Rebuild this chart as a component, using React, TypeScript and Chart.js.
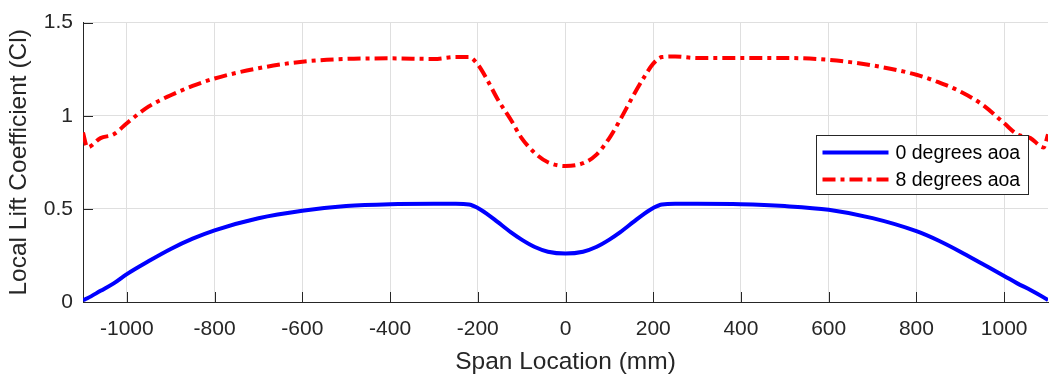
import React, { useEffect, useRef } from 'react';
import { Chart, registerables } from 'chart.js';

Chart.register(...registerables);

// ---- data ----
const spanMm = [
  -1100, -1090, -1060, -1030, -1000, -950, -900, -850, -800, -700, -600, -500, -400, -300, -250, -220, -200,
  -180, -155, -125, -100, -70, -40, 0, 40, 70, 100, 125, 155, 180, 200, 220, 250, 300, 400, 500, 600,
  700, 800, 850, 900, 950, 1000, 1030, 1060, 1090, 1100,
];
const cl0deg = [
  0.01, 0.02, 0.06, 0.1, 0.15, 0.22, 0.285, 0.34, 0.385, 0.45, 0.49, 0.515, 0.525, 0.527, 0.527, 0.524, 0.505,
  0.475, 0.43, 0.375, 0.335, 0.295, 0.27, 0.26, 0.27, 0.295, 0.335, 0.375, 0.43, 0.475, 0.505, 0.524, 0.527, 0.527, 0.525, 0.515, 0.495,
  0.45, 0.38, 0.33, 0.27, 0.205, 0.14, 0.1, 0.065, 0.025, 0.01,
];
const cl8deg = [
  0.91, 0.83, 0.88, 0.9, 0.96, 1.05, 1.11, 1.16, 1.2, 1.255, 1.29, 1.305, 1.308, 1.305, 1.315, 1.315, 1.275,
  1.2, 1.09, 0.98, 0.88, 0.8, 0.75, 0.73, 0.745, 0.79, 0.88, 0.98, 1.11, 1.21, 1.28, 1.315, 1.318, 1.31, 1.31, 1.31, 1.3,
  1.27, 1.22, 1.18, 1.13, 1.06, 0.96, 0.9, 0.88, 0.83, 0.9,
];
const seriesLabels = ['0 degrees aoa', '8 degrees aoa'];
const xTickValues = [-1000, -800, -600, -400, -200, 0, 200, 400, 600, 800, 1000];
const yTickValues = [0, 0.5, 1, 1.5];

const FONT = "'Liberation Sans', Arial, Helvetica, sans-serif";
const AXIS_COLOR = '#262626';
const GRID_COLOR = '#dfdfdf';

const inwardTicks = {
  id: 'inwardTicks',
  afterDatasetsDraw(chart: any) {
    const { ctx, chartArea } = chart;
    const xs = chart.scales.x;
    const ys = chart.scales.y;
    ctx.save();
    ctx.strokeStyle = AXIS_COLOR;
    ctx.lineWidth = 1;
    ctx.beginPath();
    for (const v of xTickValues) {
      const px = Math.round(xs.getPixelForValue(v)) + 0.5;
      ctx.moveTo(px, chartArea.bottom);
      ctx.lineTo(px, chartArea.bottom - 10);
    }
    for (const v of yTickValues) {
      const py = Math.round(ys.getPixelForValue(v)) + 0.5;
      ctx.moveTo(chartArea.left, py);
      ctx.lineTo(chartArea.left + 10, py);
    }
    ctx.stroke();
    ctx.restore();
  },
};

const boxLegend = {
  id: 'boxLegend',
  afterDraw(chart: any) {
    const { ctx, chartArea } = chart;
    const w = 212;
    const h = 59;
    const left = Math.round(chartArea.right - 20 - w) + 0.5;
    const top = Math.round(chartArea.top + 112) + 0.5;
    ctx.save();
    ctx.fillStyle = '#ffffff';
    ctx.fillRect(left, top, w, h);
    ctx.strokeStyle = AXIS_COLOR;
    ctx.lineWidth = 1;
    ctx.strokeRect(left, top, w, h);
    chart.data.datasets.forEach((ds: any, i: number) => {
      const y = top + 17 + i * 27;
      ctx.beginPath();
      ctx.strokeStyle = ds.borderColor;
      ctx.lineWidth = ds.borderWidth;
      ctx.setLineDash(ds.borderDash || []);
      ctx.moveTo(left + 6, y);
      ctx.lineTo(left + 72, y);
      ctx.stroke();
      ctx.setLineDash([]);
      ctx.fillStyle = '#000000';
      ctx.font = `19.5px ${FONT}`;
      ctx.textAlign = 'left';
      ctx.textBaseline = 'middle';
      ctx.fillText(ds.label, left + 79, y + 1);
    });
    ctx.restore();
  },
};

const plainNumber = (value: any) => String(value);

export default function App() {
  const canvasRef = useRef<HTMLCanvasElement>(null);

  useEffect(() => {
    document.body.style.margin = '0';
    const canvas = canvasRef.current;
    if (!canvas) return;
    const chart = new Chart(canvas, {
      type: 'line',
      data: {
        datasets: [
          {
            label: seriesLabels[0],
            data: spanMm.map((x, i) => ({ x, y: cl0deg[i] })),
            borderColor: '#0000ff',
            borderWidth: 4,
            pointRadius: 0,
            cubicInterpolationMode: 'monotone',
            fill: false,
          },
          {
            label: seriesLabels[1],
            data: spanMm.map((x, i) => ({ x, y: cl8deg[i] })),
            borderColor: '#ff0000',
            borderWidth: 4,
            borderDash: [13, 5, 4, 5],
            pointRadius: 0,
            cubicInterpolationMode: 'monotone',
            fill: false,
          },
        ],
      },
      options: {
        animation: false,
        responsive: false,
        maintainAspectRatio: false,
        layout: { padding: { top: 19, right: 1, left: 0, bottom: 0 } },
        plugins: {
          legend: { display: false },
          tooltip: { enabled: false },
        },
        scales: {
          x: {
            type: 'linear',
            min: -1100,
            max: 1100,
            afterBuildTicks: (s: any) => {
              s.ticks = xTickValues.map((v) => ({ value: v }));
            },
            afterFit: (s: any) => {
              s.height = 73;
            },
            grid: { color: GRID_COLOR, drawTicks: false, lineWidth: 1 },
            border: { display: true, color: AXIS_COLOR, width: 1 },
            ticks: {
              font: { family: FONT, size: 21 },
              color: AXIS_COLOR,
              padding: 15,
              maxRotation: 0,
              autoSkip: false,
              callback: plainNumber,
            },
            title: {
              display: true,
              text: 'Span Location (mm)',
              font: { family: FONT, size: 24.5, lineHeight: 1 },
              color: AXIS_COLOR,
              padding: { top: 0, bottom: 1 },
            },
          },
          y: {
            type: 'linear',
            min: 0,
            max: 1.5,
            afterBuildTicks: (s: any) => {
              s.ticks = yTickValues.map((v) => ({ value: v }));
            },
            afterFit: (s: any) => {
              s.width = 83;
            },
            grid: { color: GRID_COLOR, drawTicks: false, lineWidth: 1 },
            border: { display: true, color: AXIS_COLOR, width: 1 },
            ticks: {
              font: { family: FONT, size: 21 },
              color: AXIS_COLOR,
              padding: 10,
              autoSkip: false,
              callback: plainNumber,
            },
            title: {
              display: true,
              text: 'Local Lift Coefficient (Cl)',
              font: { family: FONT, size: 24.5, lineHeight: 1 },
              color: AXIS_COLOR,
              padding: { top: 7, bottom: 0 },
            },
          },
        },
      },
      plugins: [inwardTicks, boxLegend],
    });
    return () => chart.destroy();
  }, []);

  return (
    <div style={{ width: 1049, height: 375 }}>
      <canvas ref={canvasRef} width={1049} height={375} style={{ width: 1049, height: 375, display: 'block' }} />
    </div>
  );
}
